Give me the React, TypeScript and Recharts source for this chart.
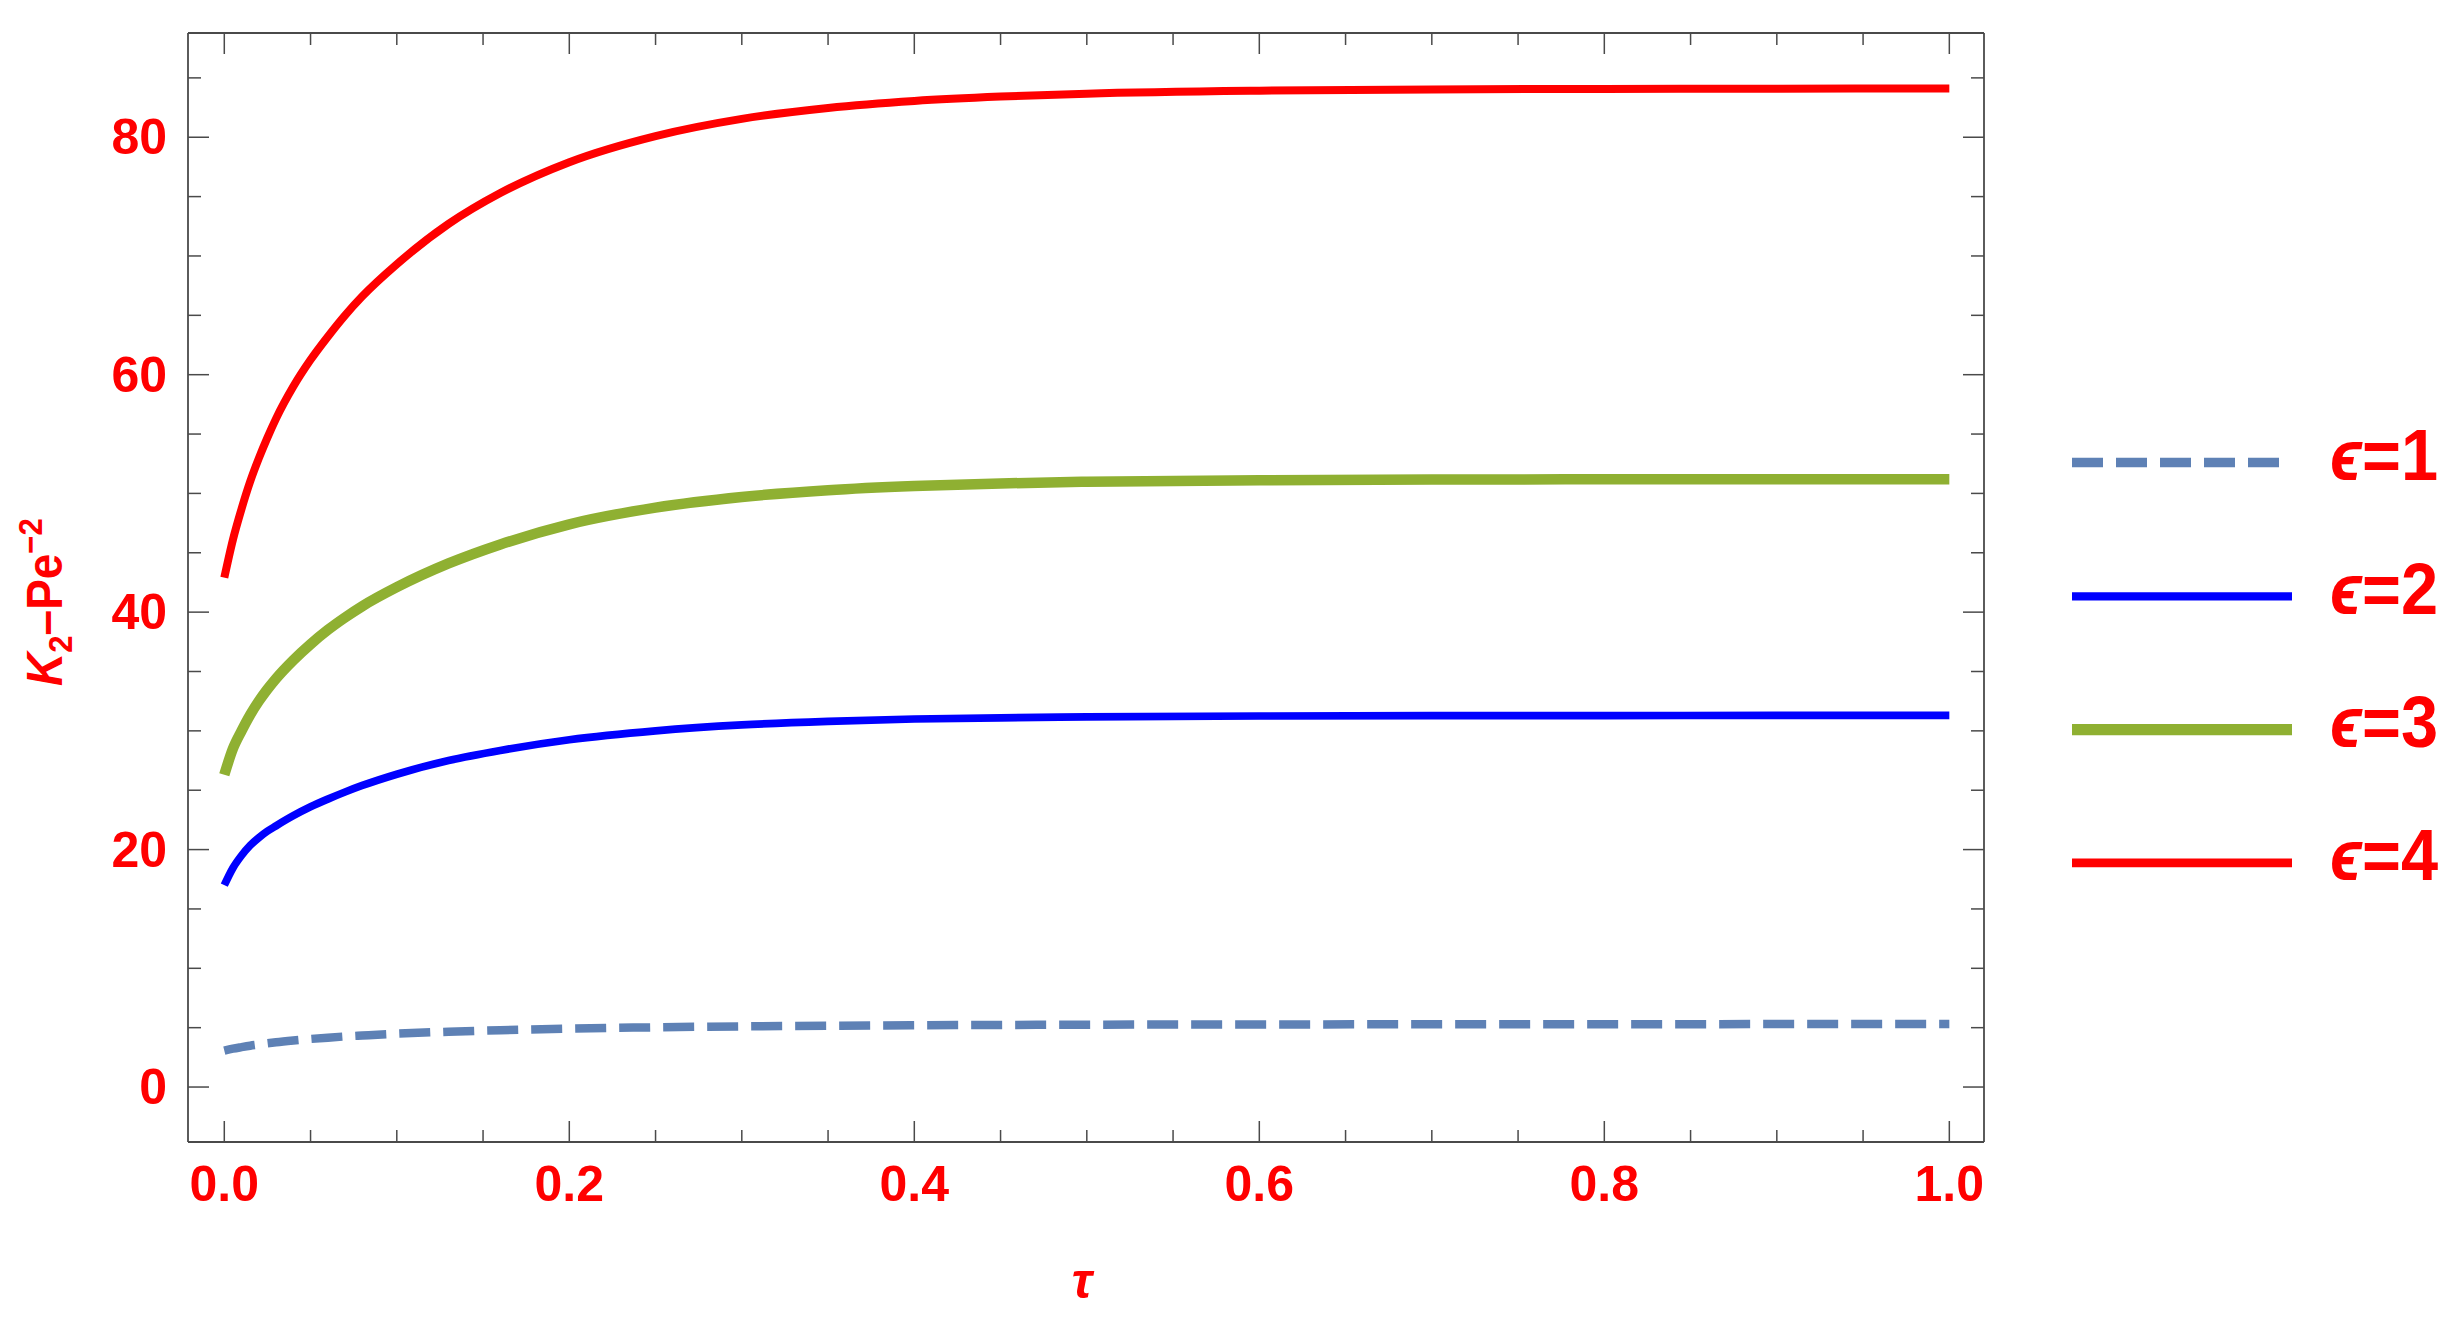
import { LineChart, Line, XAxis, YAxis, Legend } from 'recharts'

// tau sample points and curve values
const tau = [0, 0.005, 0.01, 0.015, 0.02, 0.025, 0.03, 0.04, 0.05, 0.06, 0.07, 0.08, 0.1, 0.13, 0.16, 0.2, 0.25, 0.3, 0.35, 0.4, 0.45, 0.5, 0.6, 0.7, 0.8, 0.9, 1.0]
const eps1 = [3.06, 3.23, 3.36, 3.48, 3.58, 3.68, 3.77, 3.92, 4.05, 4.16, 4.26, 4.34, 4.49, 4.66, 4.79, 4.92, 5.03, 5.11, 5.16, 5.2, 5.23, 5.25, 5.27, 5.285, 5.29, 5.3, 5.3]
const eps2 = [17.0, 18.45, 19.5, 20.35, 21.0, 21.55, 22.0, 22.85, 23.6, 24.25, 24.85, 25.4, 26.35, 27.5, 28.35, 29.25, 30.0, 30.5, 30.8, 31.0, 31.1, 31.17, 31.25, 31.28, 31.29, 31.3, 31.3]
const eps3 = [26.3, 28.5, 30.0, 31.35, 32.5, 33.5, 34.4, 35.95, 37.3, 38.5, 39.55, 40.5, 42.1, 44.1, 45.7, 47.4, 48.8, 49.7, 50.27, 50.62, 50.84, 50.98, 51.11, 51.17, 51.19, 51.2, 51.2]
const eps4 = [42.9, 46.1, 48.7, 51.0, 52.95, 54.7, 56.3, 59.0, 61.25, 63.2, 65.0, 66.6, 69.3, 72.7, 75.3, 77.9, 80.1, 81.55, 82.47, 83.06, 83.43, 83.67, 83.92, 84.03, 84.07, 84.09, 84.1]

const xTicks = [0, 0.05, 0.1, 0.15, 0.2, 0.25, 0.3, 0.35, 0.4, 0.45, 0.5, 0.55, 0.6, 0.65, 0.7, 0.75, 0.8, 0.85, 0.9, 0.95, 1.0]
const xLabels = ['0.0', '0.2', '0.4', '0.6', '0.8', '1.0']
const yTicks = [0, 5, 10, 15, 20, 25, 30, 35, 40, 45, 50, 55, 60, 65, 70, 75, 80, 85]
const yLabels = ['0', '20', '40', '60', '80']
const seriesNames = ['ϵ=1', 'ϵ=2', 'ϵ=3', 'ϵ=4']

const data = tau.map((t, i) => ({ tau: t, e1: eps1[i], e2: eps2[i], e3: eps3[i], e4: eps4[i] }))

const series = [
  { key: 'e1', name: seriesNames[0], color: '#5E81B5', width: 8.5, legendWidth: 9.5, dash: '31 13' },
  { key: 'e2', name: seriesNames[1], color: '#0000FF', width: 7.7, legendWidth: 8.2, dash: undefined },
  { key: 'e3', name: seriesNames[2], color: '#8FB032', width: 10.5, legendWidth: 11.2, dash: undefined },
  { key: 'e4', name: seriesNames[3], color: '#FF0000', width: 8, legendWidth: 8.8, dash: undefined },
]

const AXIS = '#4a4a4a'
const RED = '#FF0000'
const FONT = '"Liberation Sans", Arial, Helvetica, sans-serif'
const X_DOMAIN = [-0.02104, 1.0201]
const Y_DOMAIN = [-4.63, 88.78]

const isMajor = (v: number, step: number) => Math.abs(v / step - Math.round(v / step)) < 1e-6

function BottomTick({ x, y, payload }: any) {
  const major = isMajor(payload.value, 0.2)
  return (
    <g>
      <line x1={x} x2={x} y1={y} y2={y - (major ? 21 : 12)} stroke={AXIS} strokeWidth={1.5} />
      {major && (
        <text x={x} y={y + 59} textAnchor="middle" fill={RED} fontSize={50} fontWeight="bold" fontFamily={FONT}>
          {xLabels[Math.round(payload.value / 0.2)]}
        </text>
      )}
    </g>
  )
}

function TopTick({ x, y, payload }: any) {
  const major = isMajor(payload.value, 0.2)
  return <line x1={x} x2={x} y1={y} y2={y + (major ? 21 : 12)} stroke={AXIS} strokeWidth={1.5} />
}

function LeftTick({ x, y, payload }: any) {
  const major = isMajor(payload.value, 20)
  return (
    <g>
      <line x1={x} x2={x + (major ? 21 : 13)} y1={y} y2={y} stroke={AXIS} strokeWidth={1.5} />
      {major && (
        <text x={x - 21} y={y + 17} textAnchor="end" fill={RED} fontSize={50} fontWeight="bold" fontFamily={FONT}>
          {yLabels[Math.round(payload.value / 20)]}
        </text>
      )}
    </g>
  )
}

function RightTick({ x, y, payload }: any) {
  const major = isMajor(payload.value, 20)
  return <line x1={x} x2={x - (major ? 21 : 13)} y1={y} y2={y} stroke={AXIS} strokeWidth={1.5} />
}

function XTitle() {
  return (
    <text x={1074} y={1290} textAnchor="middle" fill={RED} fontSize={50} fontWeight="bold" fontStyle="italic" fontFamily={FONT}>
      τ
    </text>
  )
}

function YTitle() {
  return (
    <text
      x={54}
      y={594}
      transform="rotate(-90, 54, 594)"
      textAnchor="middle"
      fill={RED}
      fontSize={50}
      fontWeight="bold"
      fontFamily={FONT}
      textLength={168}
      lengthAdjust="spacingAndGlyphs"
    >
      <tspan fontStyle="italic">K</tspan>
      <tspan dy={10} fontSize={34}>2</tspan>
      <tspan dy={-10}>–Pe</tspan>
      <tspan dy={-20} fontSize={34}>−2</tspan>
    </text>
  )
}

function LegendBox() {
  const rows = [62.5, 196.4, 329.6, 462.9]
  return (
    <svg width={400} height={520}>
      {series.map((s, i) => (
        <g key={s.key}>
          <line
            x1={12}
            x2={s.dash ? 219 : 232}
            y1={rows[i]}
            y2={rows[i]}
            stroke={s.color}
            strokeWidth={s.legendWidth}
            strokeDasharray={s.dash}
          />
          <text
            x={270}
            y={rows[i] + 17.5}
            fill={RED}
            fontSize={72}
            fontWeight="bold"
            fontFamily={FONT}
            textLength={108}
            lengthAdjust="spacingAndGlyphs"
          >
            <tspan fontStyle="italic">{s.name.slice(0, 1)}</tspan>
            {s.name.slice(1)}
          </text>
        </g>
      ))}
    </svg>
  )
}

export default function App() {
  return (
    <div style={{ width: 2444, height: 1313, background: '#fff' }}>
      <LineChart width={2444} height={1313} data={data} margin={{ top: 24, right: 467, left: 0, bottom: 0 }}>
        <XAxis
          dataKey="tau"
          type="number"
          domain={X_DOMAIN}
          allowDataOverflow
          ticks={xTicks}
          interval={0}
          height={179}
          tickSize={0}
          tickMargin={0}
          tickLine={false}
          axisLine={{ stroke: AXIS, strokeWidth: 1.8 }}
          tick={BottomTick}
          label={<XTitle />}
        />
        <XAxis
          xAxisId="top"
          orientation="top"
          dataKey="tau"
          type="number"
          domain={X_DOMAIN}
          allowDataOverflow
          ticks={xTicks}
          interval={0}
          height={1}
          tickSize={0}
          tickMargin={0}
          tickLine={false}
          axisLine={{ stroke: AXIS, strokeWidth: 1.8 }}
          tick={TopTick}
        />
        <YAxis
          type="number"
          domain={Y_DOMAIN}
          allowDataOverflow
          ticks={yTicks}
          interval={0}
          width={180}
          tickSize={0}
          tickMargin={0}
          tickLine={false}
          axisLine={{ stroke: AXIS, strokeWidth: 1.8 }}
          tick={LeftTick}
          label={<YTitle />}
        />
        <YAxis
          yAxisId="right"
          orientation="right"
          type="number"
          domain={Y_DOMAIN}
          allowDataOverflow
          ticks={yTicks}
          interval={0}
          width={1}
          tickSize={0}
          tickMargin={0}
          tickLine={false}
          axisLine={{ stroke: AXIS, strokeWidth: 1.8 }}
          tick={RightTick}
        />
        <Legend
          layout="vertical"
          align="center"
          verticalAlign="middle"
          wrapperStyle={{ left: 2052, top: 392, width: 400, height: 520 }}
          content={() => <LegendBox />}
        />
        {series.map((s) => (
          <Line
            key={s.key}
            dataKey={s.key}
            name={s.name}
            type="monotone"
            stroke={s.color}
            strokeWidth={s.width}
            strokeDasharray={s.dash}
            strokeLinecap="butt"
            dot={false}
            activeDot={false}
            isAnimationActive={false}
          />
        ))}
      </LineChart>
    </div>
  )
}
